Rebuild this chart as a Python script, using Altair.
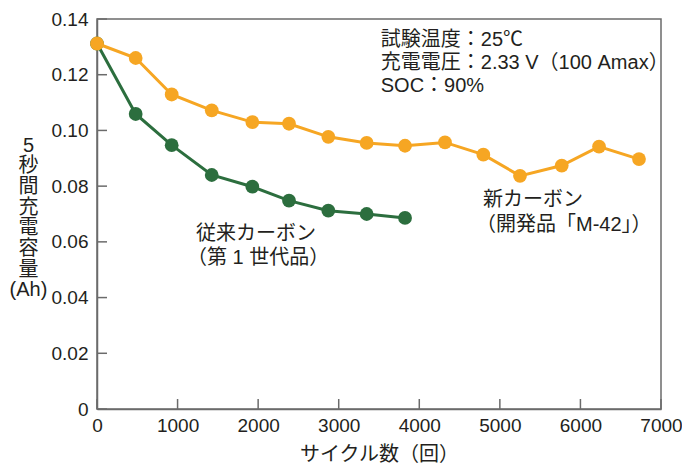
import altair as alt
import pandas as pd

# ---- data ----
cycles_new = [0, 480, 927, 1424, 1928, 2383, 2871, 3347, 3823, 4319, 4795, 5250, 5768, 6231, 6727]
cap_new = [0.1312, 0.1260, 0.1129, 0.1072, 0.1030, 0.1024, 0.0977, 0.0955, 0.0945,
           0.0957, 0.0913, 0.0837, 0.0874, 0.0942, 0.0897]
cycles_old = [0, 480, 927, 1424, 1928, 2383, 2871, 3347, 3823]
cap_old = [0.1312, 0.1059, 0.0947, 0.0840, 0.0798, 0.0748, 0.0712, 0.0700, 0.0686]

x_ticks = [0, 1000, 2000, 3000, 4000, 5000, 6000, 7000]
y_ticks = [0, 0.02, 0.04, 0.06, 0.08, 0.10, 0.12, 0.14]

ann_text = ["試験温度：25℃", "充電電圧：2.33 V（100 Amax）", "SOC：90%",
            "従来カーボン", "（第 1 世代品）", "新カーボン", "（開発品「M-42」）"]
ann_x = [3522, 3522, 3522, 1229, 1229, 4791, 4816]
ann_y = [0.1326, 0.1243, 0.1161, 0.0629, 0.0543, 0.0751, 0.0662]
ann_dx = [0, 0, 0, 0, -9, 0, -9]

ORANGE = "#F6A623"
GREEN = "#2C6E3E"
GRAY = "#6b6b6b"
TEXT = "#231f20"
FONT = "Liberation Sans, Noto Sans CJK JP"

new_df = pd.DataFrame({"cycles": cycles_new, "cap": cap_new})
old_df = pd.DataFrame({"cycles": cycles_old, "cap": cap_old})
ann_df = pd.DataFrame({"t": ann_text, "x": ann_x, "y": ann_y, "dx": ann_dx})
xt_df = pd.DataFrame({"v": x_ticks})
yt_df = pd.DataFrame({"v": y_ticks})

xscale = alt.Scale(domain=[0, 7000], nice=False, zero=False)
yscale = alt.Scale(domain=[0, 0.14], nice=False, zero=False)

xaxis = alt.Axis(values=x_ticks, format="d", ticks=False, tickSize=0, grid=False,
                 domainColor=GRAY, domainWidth=1.5, labelFont=FONT, labelFontSize=19,
                 labelColor=TEXT, labelPadding=7, labelFlush=False,
                 title="サイクル数（回）", titleFont=FONT, titleFontSize=20,
                 titleFontWeight="normal", titleColor=TEXT, titleBaseline="middle",
                 titleY=45, titleX=282)
yaxis = alt.Axis(values=y_ticks, ticks=False, tickSize=0, grid=False,
                 labelExpr="datum.value == 0 ? '0' : format(datum.value, '.2f')",
                 domainColor=GRAY, domainWidth=1.5, labelFont=FONT, labelFontSize=19,
                 labelColor=TEXT, labelPadding=9, labelFlush=False,
                 title=["5", "秒", "間", "充", "電", "容", "量", "(Ah)"],
                 titleFont=FONT, titleFontSize=20, titleFontWeight="normal",
                 titleColor=TEXT, titleAngle=0, titleAlign="center",
                 titleBaseline="top", titleLineHeight=20.7, titleX=-69, titleY=116)

base_x = alt.X("cycles:Q", scale=xscale, axis=xaxis)
base_y = alt.Y("cap:Q", scale=yscale, axis=yaxis)

old_line = alt.Chart(old_df).mark_line(color=GREEN, strokeWidth=3).encode(x=base_x, y=base_y)
old_pts = alt.Chart(old_df).mark_circle(color=GREEN, size=190, opacity=1).encode(x="cycles:Q", y="cap:Q")
new_line = alt.Chart(new_df).mark_line(color=ORANGE, strokeWidth=3).encode(x="cycles:Q", y="cap:Q")
new_pts = alt.Chart(new_df).mark_circle(color=ORANGE, size=190, opacity=1).encode(x="cycles:Q", y="cap:Q")

yticks = alt.Chart(yt_df).mark_rule(color=GRAY, strokeWidth=1.5).encode(
    y="v:Q", x=alt.value(0), x2=alt.value(10))
xticks = alt.Chart(xt_df).mark_rule(color=GRAY, strokeWidth=1.5).encode(
    x="v:Q", y=alt.value(390), y2=alt.value(380))

layers = [yticks, xticks, old_line, old_pts, new_line, new_pts]
for i, row in ann_df.iterrows():
    layers.append(
        alt.Chart(ann_df.iloc[[i]]).mark_text(font=FONT, fontSize=20, color=TEXT,
                                              align="left", baseline="middle",
                                              dx=float(row["dx"])).encode(
            x="x:Q", y="y:Q", text="t:N"))

chart = alt.layer(*layers).properties(
    width=564, height=390,
    autosize=alt.AutoSizeParams(type="none"),
    padding={"left": 89, "top": 11, "right": 21, "bottom": 55},
    background="white",
).configure_view(stroke=GRAY, strokeWidth=1.5)

chart.save("out.html", embed_options={"renderer": "svg", "actions": False})
